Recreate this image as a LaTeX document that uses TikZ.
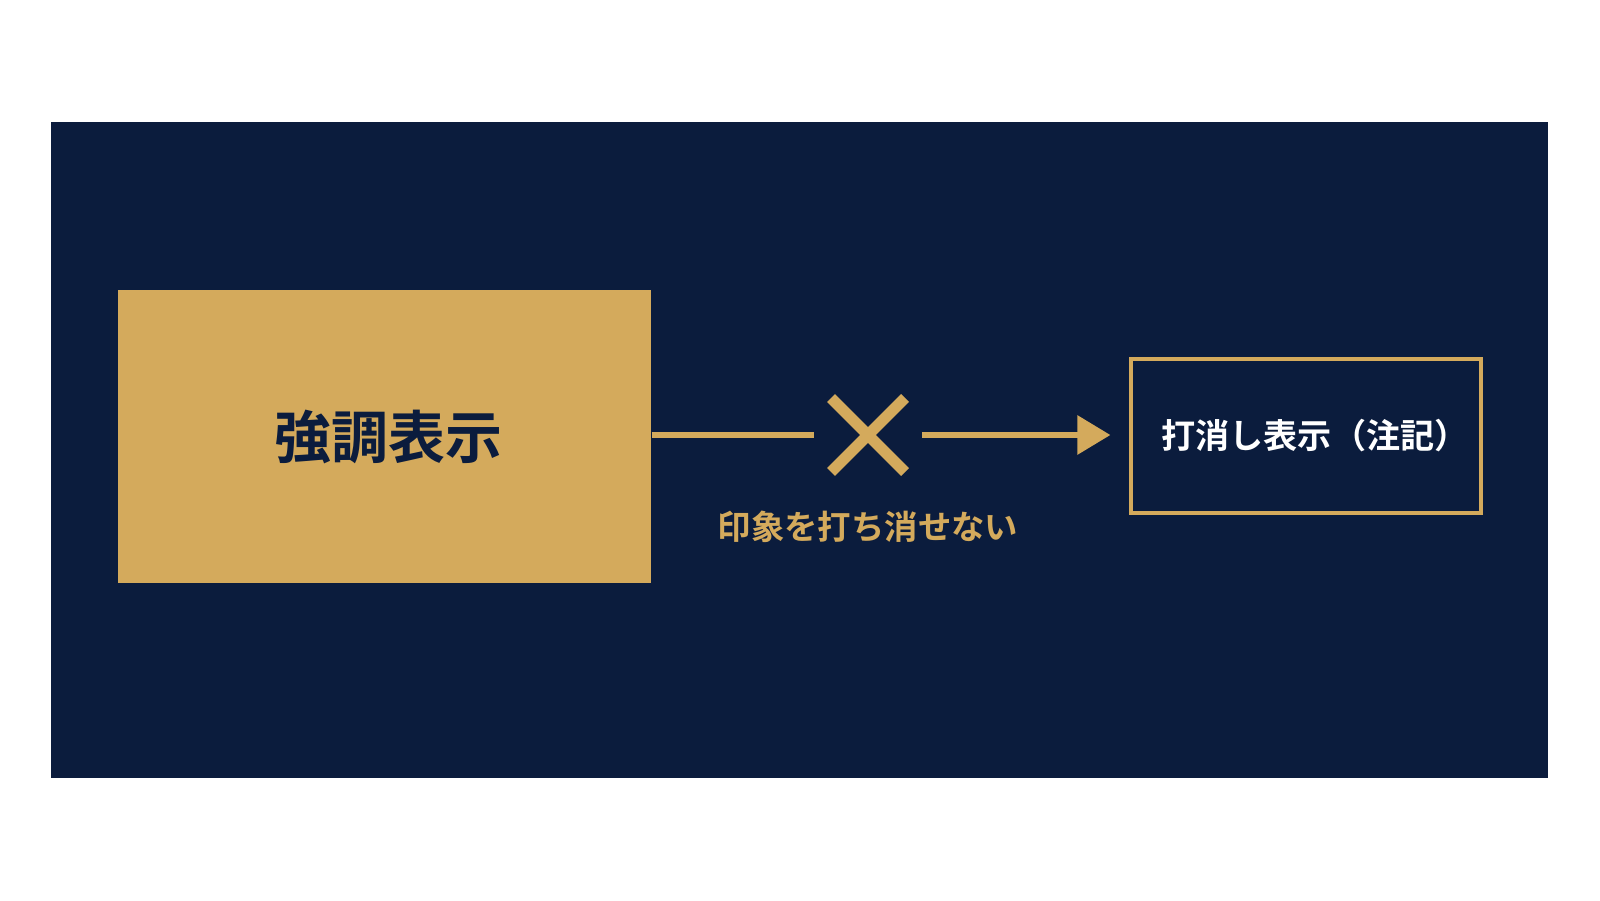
\documentclass[tikz,border=0pt]{standalone}
\usepackage{fontspec}
\newfontfamily\jpfont{Noto Sans CJK JP}[BoldFont={Noto Sans CJK JP Bold}]
\usetikzlibrary{arrows.meta,calc}
\definecolor{navy}{RGB}{11,28,61}
\definecolor{gold}{RGB}{212,170,92}

\begin{document}
\begin{tikzpicture}[
    strongbox/.style={fill=gold, minimum width=5.33cm, minimum height=2.93cm, inner sep=0pt,
      text=navy, font=\jpfont\bfseries\fontsize{16.2}{18}\selectfont},
    notebox/.style={draw=gold, line width=0.9pt, minimum width=3.5cm, minimum height=1.54cm,
      inner sep=0pt, text=white, font=\jpfont\bfseries\fontsize{9.7}{11}\selectfont},
    link/.style={gold, line width=1.7pt},
    cross/.style={gold, line width=3.2pt}
  ]
    % Draw the page and the dark panel
    \fill[white] (0,0) rectangle (16,9);
    \fill[navy] (0.51,1.22) rectangle (15.48,7.78);
    % Draw the two boxes
    \node[strongbox] (strong) at (3.845,4.635) {\hspace*{0.08cm}強調表示};
    \node[notebox] (note) at (13.06,4.64) {\hspace*{0.18cm}打消し表示（注記）};
    % Draw the crossed-out link
    \coordinate (cross) at (8.68,4.65);
    \coordinate (stopL) at (8.14,4.65);
    \coordinate (startR) at (9.22,4.65);
    \draw[link] (strong.east |- stopL) -- (stopL);
    \draw[link, -{Triangle[length=0.33cm, width=0.38cm]}, shorten >=0.19cm] (startR) -- (note.west |- startR);
    \draw[cross] ($(cross)+(-0.37,0.37)$) -- ($(cross)+(0.37,-0.37)$);
    \draw[cross] ($(cross)+(-0.37,-0.37)$) -- ($(cross)+(0.37,0.37)$);
    % Draw the label
    \node[text=gold, font=\jpfont\bfseries\fontsize{9.5}{11}\selectfont] (caption) at (8.68,3.73) {印象を打ち消せない};
  \end{tikzpicture}
\end{document}
